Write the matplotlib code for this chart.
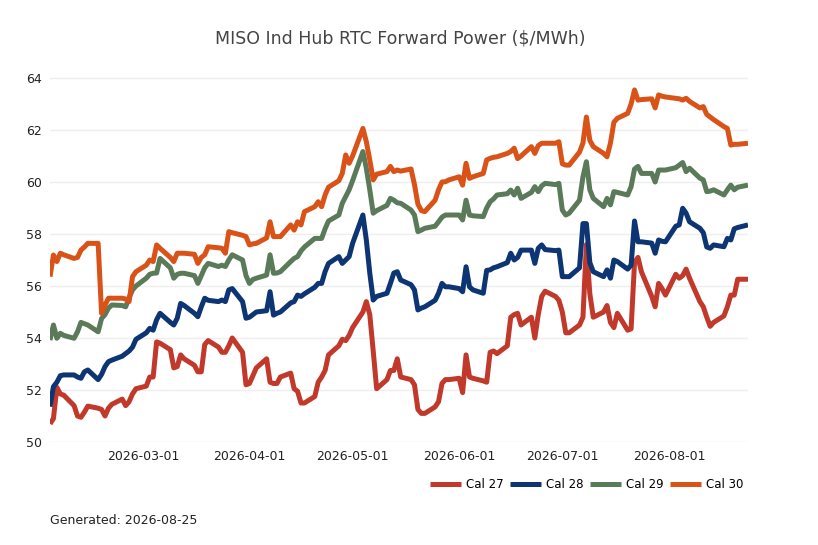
import matplotlib
matplotlib.use("Agg")
import matplotlib.pyplot as plt
import matplotlib.dates as mdates
import pandas as pd

start_date = "2026-02-02"
end_date = "2026-08-24"

cal27 = [
    50.7, 50.9, 52.1, 51.85, 51.8,
    51.4, 51.0, 50.95, 51.15, 51.38,
    51.3, 51.25, 51.0, 51.3, 51.45,
    51.65, 51.4, 51.55, 51.85, 52.05,
    52.15, 52.5, 52.5, 53.85, 53.8,
    53.55, 52.85, 52.9, 53.35, 53.2,
    52.95, 52.7, 52.7, 53.75, 53.9,
    53.65, 53.45, 53.45, 53.7, 54.0,
    53.45, 52.2, 52.25, 52.55, 52.85,
    53.2, 52.3, 52.25, 52.25, 52.5,
    52.65, 52.05, 51.95, 51.5, 51.5,
    51.75, 52.3, 52.5, 52.75, 53.35,
    53.7, 53.95, 53.9, 54.1, 54.4,
    55.0, 55.4, 54.9, 53.5, 52.05,
    52.4, 52.75, 52.75, 53.2, 52.5,
    52.4, 52.2, 51.25, 51.1, 51.1,
    51.35, 51.55, 52.25, 52.4, 52.4,
    52.45, 51.9, 53.35, 52.5, 52.45,
    52.35, 52.3, 53.45, 53.5, 53.4,
    53.7, 54.8, 54.9, 54.95, 54.5,
    54.8, 54.0, 54.9, 55.6, 55.8,
    55.6, 55.45, 55.0, 54.2, 54.2,
    54.5, 54.8, 57.6, 55.7, 54.8,
    55.0, 55.25, 54.6, 54.4, 54.95,
    54.3, 54.35, 56.9, 57.1, 56.55,
    55.6, 55.2, 56.1, 55.9, 55.65,
    56.45, 56.3, 56.4, 56.65, 56.3,
    55.4, 55.2, 54.8, 54.45, 54.6,
    54.85, 55.2, 55.65, 55.65, 56.26,
    56.26,
]

cal28 = [
    51.36, 52.13, 52.3, 52.55, 52.58,
    52.58, 52.5, 52.45, 52.7, 52.77,
    52.4, 52.6, 52.9, 53.09, 53.15,
    53.3, 53.4, 53.5, 53.65, 53.95,
    54.2, 54.37, 54.3, 54.7, 54.95,
    54.6, 54.5, 54.76, 55.33, 55.25,
    54.95, 54.82, 55.2, 55.53, 55.45,
    55.4, 55.46, 55.4, 55.85, 55.9,
    55.4, 54.76, 54.8, 54.9, 55.0,
    55.05, 55.78, 54.88, 54.95, 55.0,
    55.35, 55.4, 55.65, 55.6, 55.7,
    55.95, 56.1, 56.1, 56.55, 56.87,
    57.13, 56.87, 57.0, 57.13, 57.64,
    58.73, 57.77, 56.5, 55.46, 55.6,
    55.72, 56.1, 56.5, 56.55, 56.23,
    56.05, 55.85, 55.08, 55.15, 55.2,
    55.45, 55.72, 56.1, 55.97, 55.97,
    55.9, 55.78, 56.74, 55.97, 55.85,
    55.72, 56.6, 56.62, 56.7, 56.74,
    56.9, 57.26, 57.0, 57.1, 57.38,
    57.38, 56.87, 57.45, 57.58, 57.4,
    57.36, 57.38, 56.36, 56.36, 56.36,
    56.7, 58.4, 58.4, 56.9, 56.55,
    56.36, 56.62, 56.3, 57.0, 56.94,
    56.65, 56.8, 58.5, 57.7, 57.7,
    57.65, 57.26, 57.77, 57.72, 57.7,
    58.3, 58.35, 58.99, 58.8, 58.47,
    58.22, 58.05, 57.5, 57.45, 57.58,
    57.51, 57.83, 57.77, 58.2, 58.25,
    58.35,
]

cal29 = [
    53.92, 54.5, 53.99, 54.18, 54.1,
    53.99, 54.24, 54.6, 54.55, 54.5,
    54.24, 54.75, 54.9, 55.15, 55.27,
    55.25, 55.2, 55.55, 55.85, 56.0,
    56.3, 56.45, 56.49, 56.5, 57.06,
    56.7, 56.3, 56.45, 56.49, 56.49,
    56.4, 56.1, 56.4, 56.7, 56.87,
    56.75, 56.8, 56.75, 57.0, 57.2,
    57.0, 56.4, 56.1, 56.25, 56.3,
    56.42, 57.2, 56.49, 56.5, 56.55,
    56.94, 57.06, 57.13, 57.35, 57.5,
    57.83, 57.83, 57.83, 58.2, 58.5,
    58.73, 59.18, 59.44, 59.7, 60.05,
    61.17, 60.53, 59.7, 58.8, 58.9,
    59.1, 59.37, 59.3, 59.2, 59.18,
    58.92, 58.73, 58.09, 58.15, 58.22,
    58.3, 58.47, 58.65, 58.73, 58.73,
    58.73, 58.54, 59.3, 58.73, 58.7,
    58.67, 59.0, 59.24, 59.35, 59.5,
    59.55, 59.69, 59.5, 59.76, 59.37,
    59.6, 59.82, 59.63, 59.85, 59.95,
    59.9, 59.95, 58.92, 58.73, 58.8,
    59.3, 60.2, 60.78, 59.7, 59.37,
    59.05, 59.37, 59.12, 59.63, 59.6,
    59.5, 59.82, 60.5, 60.6, 60.33,
    60.33, 60.0, 60.46, 60.46, 60.46,
    60.55, 60.65, 60.75, 60.4, 60.53,
    60.15, 60.08, 59.63, 59.65, 59.7,
    59.5, 59.7, 59.88, 59.7, 59.8,
    59.88,
]

cal30 = [
    56.36, 57.19, 56.94, 57.26, 57.2,
    57.06, 57.1, 57.38, 57.5, 57.64,
    57.64, 54.95, 55.27, 55.53, 55.53,
    55.53, 55.5, 55.4, 56.36, 56.55,
    56.8, 57.0, 56.94, 57.58, 57.45,
    57.1, 56.94, 57.26, 57.26, 57.26,
    57.22, 56.87, 57.1, 57.2, 57.51,
    57.47, 57.45, 57.26, 58.09, 58.05,
    57.95, 57.9, 57.58, 57.62, 57.64,
    57.85, 58.47, 57.9, 57.9, 57.9,
    58.35, 58.15, 58.47, 58.35, 58.86,
    59.05, 59.24, 59.05, 59.5, 59.8,
    60.05, 60.33, 61.04, 60.72, 61.0,
    62.06, 61.55, 60.85, 60.08, 60.3,
    60.4, 60.6, 60.4, 60.46, 60.42,
    60.5, 59.9, 59.15, 58.9, 58.86,
    59.3, 59.7, 60.0, 60.01, 60.08,
    60.2, 59.88, 60.72, 60.14, 60.2,
    60.33, 60.85, 60.91, 60.95, 60.97,
    61.1, 61.17, 61.3, 60.9, 61.0,
    61.36, 61.1, 61.4, 61.49, 61.49,
    61.49, 61.55, 60.7, 60.65, 60.65,
    61.15, 61.5, 62.5, 61.6, 61.36,
    61.1, 60.97, 61.5, 62.3, 62.45,
    62.64, 63.0, 63.54, 63.15, 63.17,
    63.2, 62.85, 63.35, 63.3, 63.27,
    63.22, 63.2, 63.15, 63.22, 63.1,
    62.85, 62.9, 62.6, 62.5, 62.4,
    62.13, 62.06, 61.42, 61.45, 61.45,
    61.49,
]

series_names = ["Cal 27", "Cal 28", "Cal 29", "Cal 30"]
series_values = [cal27, cal28, cal29, cal30]
colors = ["#c0392b", "#0d3573", "#5b7a5a", "#d95319"]

title = "MISO Ind Hub RTC Forward Power ($/MWh)"
footer = "Generated: 2026-08-25"
yticks = [50, 52, 54, 56, 58, 60, 62, 64]

dates = pd.bdate_range(start_date, end_date)

fig = plt.figure(figsize=(8.18, 5.45), dpi=100)
ax = fig.add_axes([50 / 818, (545 - 442) / 545, 698 / 818, (442 - 65) / 545])

for name, vals, c in zip(series_names, series_values, colors):
    ax.plot(dates[:len(vals)], vals, color=c, lw=3.6, label=name,
            solid_joinstyle="round", solid_capstyle="butt")

ax.set_xlim(dates[0], dates[-1])
ax.set_ylim(50, 64.5)
ax.set_yticks(yticks)
ax.yaxis.grid(True, color="#eeeeee", lw=1)
ax.set_axisbelow(True)
for s in ax.spines.values():
    s.set_visible(False)
ax.tick_params(axis="both", length=0, labelsize=9, colors="#222222", pad=6)
ax.xaxis.set_major_locator(mdates.MonthLocator())
ax.xaxis.set_major_formatter(mdates.DateFormatter("%Y-%m-%d"))

fig.text(400 / 818, 1 - 38 / 545, title, ha="center", va="center",
         fontsize=12.5, color="#444444")

ax.legend(loc="center right", bbox_to_anchor=(1.0, (485 - 442) / -(442 - 65)),
          ncol=4, frameon=False, fontsize=8.5, handlelength=2.6,
          handletextpad=0.4, columnspacing=0.6, borderaxespad=0)

fig.text(50 / 818, 1 - 520 / 545, footer, ha="left", va="center",
         fontsize=9, color="#222222")

fig.savefig("out.png", dpi=100)
